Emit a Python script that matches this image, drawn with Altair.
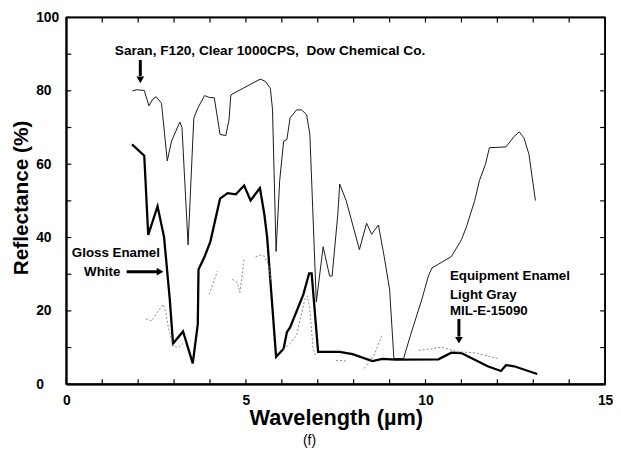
import altair as alt
import pandas as pd

# ---- data ----
saran_x = [1.84, 1.96, 2.17, 2.30, 2.39, 2.50, 2.65, 2.81, 2.93, 3.16, 3.22, 3.39, 3.50, 3.55,
           3.66, 3.85, 3.98, 4.12, 4.28, 4.44, 4.53, 4.58, 5.40, 5.54, 5.68, 5.74, 5.84, 5.94,
           6.05, 6.14, 6.23, 6.41, 6.55, 6.69, 6.78, 6.83, 6.96, 7.15, 7.33, 7.40, 7.56, 7.61,
           7.79, 8.16, 8.36, 8.50, 8.69, 8.85, 9.00, 9.12, 9.39, 9.58, 9.90, 10.08, 10.18,
           10.72, 11.00, 11.14, 11.37, 11.50, 11.67, 11.78, 12.24, 12.47, 12.61, 12.74, 12.88, 13.06]
saran_y = [80.0, 80.3, 80.1, 75.9, 77.5, 78.4, 76.6, 60.9, 66.3, 71.5, 70.0, 38.0, 62.0, 72.6,
           75.3, 78.7, 78.2, 78.1, 68.1, 67.8, 72.1, 78.9, 83.2, 82.6, 80.7, 75.0, 36.2, 55.5,
           66.3, 66.7, 72.6, 74.8, 74.8, 73.5, 68.1, 55.5, 22.4, 37.5, 29.5, 29.5, 46.5, 54.6,
           50.1, 36.7, 43.9, 40.9, 43.4, 34.8, 25.9, 7.0, 7.0, 13.3, 23.2, 29.5, 31.7,
           34.8, 39.4, 42.9, 50.1, 55.5, 60.0, 64.5, 64.7, 67.6, 68.8, 67.2, 62.7, 50.1]

gloss_x = [1.83, 2.17, 2.28, 2.54, 2.72, 2.88, 2.97, 3.25, 3.52, 3.66, 3.68, 3.85, 4.01, 4.28,
           4.49, 4.72, 4.95, 5.13, 5.39, 5.51, 5.59, 5.84, 6.05, 6.14, 6.23, 6.60, 6.76, 6.83,
           7.01, 7.61, 7.97, 8.52, 8.80, 9.17, 10.36, 10.72, 11.00, 11.73, 12.10, 12.24, 12.47, 13.11]
gloss_y = [65.4, 62.3, 40.7, 48.5, 40.2, 23.2, 11.1, 14.4, 5.7, 16.4, 31.3, 34.8, 38.9, 50.6,
           52.1, 51.8, 54.2, 50.1, 53.5, 46.5, 40.2, 7.5, 9.7, 14.2, 15.5, 24.5, 30.2, 30.2,
           8.8, 8.8, 8.2, 6.3, 6.9, 6.7, 6.8, 8.6, 8.5, 4.9, 3.6, 5.2, 4.9, 2.8]

gray_seg = [1, 1, 1, 1, 1, 1, 1, 1, 1,
            2, 2, 2,
            3, 3, 3, 3, 3,
            4, 4, 4, 4, 4,
            5, 5, 5, 5, 5, 5, 5, 5,
            6, 6, 6,
            7, 7, 7,
            8, 8, 8, 8, 8]
gray_x = [2.21, 2.38, 2.56, 2.70, 2.76, 2.85, 2.97, 3.10, 3.25,
          3.98, 4.10, 4.21,
          4.62, 4.76, 4.83, 4.90, 4.95,
          5.27, 5.40, 5.50, 5.63, 5.70,
          6.05, 6.23, 6.41, 6.64, 6.71, 6.78, 6.87, 6.95,
          7.51, 7.61, 7.84,
          8.29, 8.57, 8.80,
          9.81, 10.45, 10.91, 11.37, 12.01]
gray_y = [17.8, 17.3, 20.0, 21.8, 20.0, 15.0, 10.6, 10.0, 11.1,
          24.5, 28.0, 30.8,
          28.6, 27.7, 25.0, 30.0, 34.4,
          34.7, 35.2, 35.0, 32.6, 28.0,
          9.5, 11.1, 13.3, 23.2, 24.1, 20.5, 9.7, 7.5,
          6.5, 6.5, 6.3,
          4.3, 7.9, 13.7,
          9.2, 10.1, 8.8, 8.6, 7.0]

x_ticks = list(range(0, 16))
y_ticks = list(range(0, 101, 10))
x_domain = [0, 15]
y_domain = [0, 100]

saran_label = ["Saran, F120, Clear 1000CPS,\u00a0 Dow Chemical Co."]
saran_label_x = [1.35]
saran_label_y = [90.8]
left_labels = ["Equipment Enamel", "Light Gray", "MIL-E-15090"]
left_label_x = [10.68, 10.68, 10.68]
left_label_y = [29.4, 24.4, 19.9]
center_labels = ["Gloss Enamel", "White"]
center_label_x = [1.38, 1.0]
center_label_y = [35.8, 30.7]

arrow_x = [2.06, 1.68, 10.93]
arrow_x2 = [2.06, 2.58, 10.93]
arrow_y = [88.4, 30.7, 17.8]
arrow_y2 = [84.0, 30.7, 13.0]
head_x = [2.06, 2.61, 10.93]
head_y = [83.0, 30.7, 12.0]
head_shape = ["triangle-down", "triangle-right", "triangle-down"]

# ---- chart ----
W, H = 545, 371
FONT = "Liberation Sans"
TX = 5 * (x_domain[1] - x_domain[0]) / W   # 5 px tick length in data units
TY = 5 * (y_domain[1] - y_domain[0]) / H
xs = alt.Scale(domain=x_domain, nice=False, zero=False)
ys = alt.Scale(domain=y_domain, nice=False, zero=False)

x_axis = alt.Axis(orient="bottom", values=x_ticks, domain=True, domainColor="black", domainWidth=1.5,
                  ticks=False, tickSize=0, grid=False,
                  labelExpr="datum.value % 5 == 0 ? datum.label : ''", labelOverlap=False,
                  labelFlush=False, labelFont=FONT, labelFontWeight="bold", labelFontSize=14,
                  labelColor="black", labelPadding=9,
                  title="Wavelength (µm)", titleFont=FONT, titleFontWeight="bold",
                  titleFontSize=22, titleColor="black", titleBaseline="alphabetic", titleY=41)
y_axis = alt.Axis(orient="left", values=y_ticks, domain=True, domainColor="black", domainWidth=1.5,
                  ticks=False, tickSize=0, grid=False,
                  labelExpr="datum.value % 20 == 0 ? datum.label : ''", labelOverlap=False,
                  labelFlush=False, labelFont=FONT, labelFontWeight="bold", labelFontSize=14,
                  labelColor="black", labelAlign="left", labelPadding=31,
                  title="Reflectance (%)", titleFont=FONT, titleFontWeight="bold",
                  titleFontSize=21, titleColor="black", titleBaseline="middle",
                  titleX=-45, titleY=182)


def X(f="x:Q"):
    return alt.X(f, scale=xs, axis=x_axis)


def Y(f="y:Q"):
    return alt.Y(f, scale=ys, axis=y_axis)


saran_df = pd.DataFrame({"x": saran_x, "y": saran_y})
gloss_df = pd.DataFrame({"x": gloss_x, "y": gloss_y})
gray_df = pd.DataFrame({"x": gray_x, "y": gray_y, "seg": gray_seg})
sl_df = pd.DataFrame({"x": saran_label_x, "y": saran_label_y, "t": saran_label})
left_df = pd.DataFrame({"x": left_label_x, "y": left_label_y, "t": left_labels})
center_df = pd.DataFrame({"x": center_label_x, "y": center_label_y, "t": center_labels})
arrow_df = pd.DataFrame({"x": arrow_x, "x2": arrow_x2, "y": arrow_y, "y2": arrow_y2})
head_df = pd.DataFrame({"x": head_x, "y": head_y, "s": head_shape})

# inward tick segments on all four sides, built from the tick lists
tick_rows = []
for v in x_ticks:
    tick_rows.append({"x": v, "x2": v, "y": y_domain[0], "y2": y_domain[0] + TY})
    tick_rows.append({"x": v, "x2": v, "y": y_domain[1], "y2": y_domain[1] - TY})
for v in y_ticks:
    tick_rows.append({"x": x_domain[0], "x2": x_domain[0] + TX, "y": v, "y2": v})
    tick_rows.append({"x": x_domain[1], "x2": x_domain[1] - TX, "y": v, "y2": v})
tick_df = pd.DataFrame(tick_rows)

# frame edges
frame_df = pd.DataFrame({
    "x": [x_domain[0], x_domain[1], x_domain[0], x_domain[0]],
    "x2": [x_domain[0], x_domain[1], x_domain[1], x_domain[1]],
    "y": [y_domain[0], y_domain[0], y_domain[0], y_domain[1]],
    "y2": [y_domain[1], y_domain[1], y_domain[0], y_domain[1]],
})

saran = alt.Chart(saran_df).mark_line(color="#1a1a1a", strokeWidth=1).encode(
    x=X(), y=Y(), order="x:Q")
gloss = alt.Chart(gloss_df).mark_line(color="black", strokeWidth=2.3).encode(
    x=X(), y=Y(), order="x:Q")
gray = alt.Chart(gray_df).mark_line(color="#8a8a8a", strokeWidth=1, strokeDash=[2, 2]).encode(
    x=X(), y=Y(), detail="seg:N", order="x:Q")

ticks = alt.Chart(tick_df).mark_rule(color="black", strokeWidth=1.2, opacity=1).encode(
    x=X(), x2="x2:Q", y=Y(), y2="y2:Q")
frame = alt.Chart(frame_df).mark_rule(color="black", strokeWidth=1.8, opacity=1).encode(
    x=X(), x2="x2:Q", y=Y(), y2="y2:Q")

sl_text = alt.Chart(sl_df).mark_text(align="left", baseline="middle", font=FONT,
                                     fontWeight="bold", fontSize=13.8, color="black").encode(
    x=X(), y=Y(), text="t:N")
left_text = alt.Chart(left_df).mark_text(align="left", baseline="middle", font=FONT,
                                         fontWeight="bold", fontSize=13.5, color="black").encode(
    x=X(), y=Y(), text="t:N")
center_text = alt.Chart(center_df).mark_text(align="center", baseline="middle", font=FONT,
                                             fontWeight="bold", fontSize=13.5, color="black").encode(
    x=X(), y=Y(), text="t:N")
arrows = alt.Chart(arrow_df).mark_rule(color="black", strokeWidth=3).encode(
    x=X(), x2="x2:Q", y=Y(), y2="y2:Q")
heads = alt.Chart(head_df).mark_point(filled=True, color="black", size=60, opacity=1).encode(
    x=X(), y=Y(), shape=alt.Shape("s:N", scale=None, legend=None))

flabel = alt.Chart(pd.DataFrame({"t": ["(f)"]})).mark_text(
    font=FONT, fontSize=14, color="black", align="center", baseline="middle").encode(
    x=alt.value(246), y=alt.value(428), text="t:N")

chart = alt.layer(saran, gloss, gray, ticks, frame, sl_text, left_text, center_text,
                  arrows, heads, flabel
).properties(
    width=W, height=H,
    background="white",
    autosize=alt.AutoSizeParams(type="none"),
    padding={"left": 59, "top": 7, "right": 8, "bottom": 70},
).configure_view(stroke="black", strokeWidth=1.5)

chart.save("out.html", embed_options={"renderer": "svg", "actions": False})
